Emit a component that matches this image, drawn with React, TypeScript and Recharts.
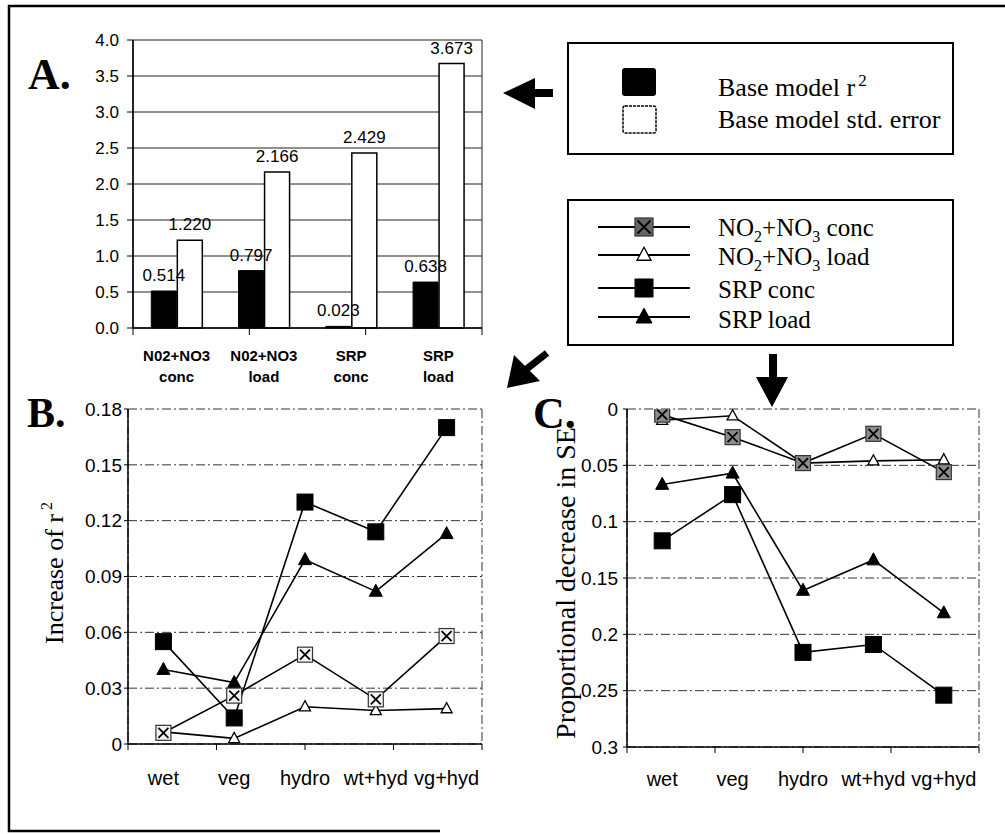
import React from 'react';
import { BarChart, Bar, LineChart, Line, XAxis, YAxis, CartesianGrid, LabelList } from 'recharts';

// ---------- Panel A data ----------
const barCategories = ['N02+NO3|conc', 'N02+NO3|load', 'SRP|conc', 'SRP|load'];
const baseModelR2 = [0.514, 0.797, 0.023, 0.638];
const baseModelStdError = [1.22, 2.166, 2.429, 3.673];
const barYTicks = [0, 0.5, 1, 1.5, 2, 2.5, 3, 3.5, 4];
const barEdgeTicks = [0, 1, 2, 3, 4];

// ---------- Panels B & C data ----------
const lineCategories = ['wet', 'veg', 'hydro', 'wt+hyd', 'vg+hyd'];
const lineEdgeTicks = [0, 1, 2, 3, 4, 5];

// B: increase of r^2
const r2No3Conc = [0.006, 0.026, 0.048, 0.024, 0.058];
const r2No3Load = [0.0065, 0.003, 0.02, 0.018, 0.019];
const r2SrpConc = [0.055, 0.014, 0.13, 0.114, 0.17];
const r2SrpLoad = [0.04, 0.033, 0.099, 0.082, 0.113];
const r2YTicks = [0, 0.03, 0.06, 0.09, 0.12, 0.15, 0.18];

// C: proportional decrease in SE
const seNo3Conc = [0.005, 0.025, 0.048, 0.022, 0.056];
const seNo3Load = [0.01, 0.006, 0.048, 0.046, 0.045];
const seSrpConc = [0.117, 0.076, 0.216, 0.209, 0.254];
const seSrpLoad = [0.067, 0.057, 0.161, 0.134, 0.181];
const seYTicks = [0, 0.05, 0.1, 0.15, 0.2, 0.25, 0.3];

const barData = barCategories.map((name, i) => ({
  name,
  r2: baseModelR2[i],
  se: baseModelStdError[i],
}));

const r2Data = lineCategories.map((name, i) => ({
  name,
  no3conc: r2No3Conc[i],
  no3load: r2No3Load[i],
  srpconc: r2SrpConc[i],
  srpload: r2SrpLoad[i],
}));

const seData = lineCategories.map((name, i) => ({
  name,
  no3conc: seNo3Conc[i],
  no3load: seNo3Load[i],
  srpconc: seSrpConc[i],
  srpload: seSrpLoad[i],
}));

const SANS = "Arial, 'Liberation Sans', Helvetica, sans-serif";
const SERIF = "'Times New Roman', 'Liberation Serif', serif";

type Kind = 'xsquare' | 'otri' | 'square' | 'tri';

function marker(kind: Kind, cx: number, cy: number, s: number, xFill: string) {
  const h = s / 2;
  switch (kind) {
    case 'xsquare':
      return (
        <g>
          <rect x={cx - h} y={cy - h} width={s} height={s} fill={xFill} stroke="#333" strokeWidth={1.2} />
          <path
            d={`M${cx - h + 2.5} ${cy - h + 2.5}L${cx + h - 2.5} ${cy + h - 2.5}M${cx + h - 2.5} ${cy - h + 2.5}L${cx - h + 2.5} ${cy + h - 2.5}`}
            stroke="#000"
            strokeWidth={1.8}
          />
        </g>
      );
    case 'otri':
      return (
        <polygon
          points={`${cx},${cy - h * 1.1} ${cx - h},${cy + h * 0.75} ${cx + h},${cy + h * 0.75}`}
          fill="#fff"
          stroke="#000"
          strokeWidth={1.3}
        />
      );
    case 'square':
      return <rect x={cx - h} y={cy - h} width={s} height={s} fill="#000" stroke="#000" strokeWidth={1} />;
    case 'tri':
      return (
        <polygon
          points={`${cx},${cy - h * 1.1} ${cx - h},${cy + h * 0.75} ${cx + h},${cy + h * 0.75}`}
          fill="#000"
          stroke="#000"
          strokeWidth={1}
        />
      );
  }
}

const seriesDefs: { key: string; kind: Kind; size: number }[] = [
  { key: 'no3load', kind: 'otri', size: 11 },
  { key: 'srpload', kind: 'tri', size: 13 },
  { key: 'no3conc', kind: 'xsquare', size: 15 },
  { key: 'srpconc', kind: 'square', size: 16 },
];

const BarCatTick = (props: any) => {
  const { x, y, payload } = props;
  const [l1, l2] = String(payload.value).split('|');
  return (
    <text x={x} y={y} textAnchor="middle" fontFamily={SANS} fontWeight="bold" fontSize={15} fill="#000">
      <tspan x={x} dy={32}>{l1}</tspan>
      <tspan x={x} dy={21}>{l2}</tspan>
    </text>
  );
};

const edgeGen = (args: any) => {
  const o = args.offset;
  return [o.left, o.left + o.width];
};

const EDGE = 'aEdge';
const CAT = 'zCat';

function PanelA() {
  return (
    <BarChart
      width={500}
      height={400}
      data={barData}
      margin={{ top: 40, right: 18, bottom: 21, left: 83 }}
      barCategoryGap="21%"
      barGap={1}
    >
      <CartesianGrid xAxisId={CAT} stroke="#222" strokeWidth={1} verticalCoordinatesGenerator={edgeGen} />
      <XAxis
        xAxisId={EDGE}
        type="number"
        domain={[0, 4]}
        allowDataOverflow
        ticks={barEdgeTicks}
        tickSize={7}
        tickFormatter={() => ''}
        height={1}
        stroke="#000"
        axisLine={{ stroke: '#000', strokeWidth: 1.5 }}
      />
      <XAxis
        xAxisId={CAT}
        dataKey="name"
        type="category"
        axisLine={false}
        tickLine={false}
        tickSize={0}
        tickMargin={0}
        height={50}
        interval={0}
        tick={<BarCatTick />}
      />
      <YAxis
        width={50}
        domain={[0, 4]}
        ticks={barYTicks}
        tickFormatter={(v: number) => v.toFixed(1)}
        tickSize={6}
        tickMargin={8}
        axisLine={{ stroke: '#000', strokeWidth: 1.5 }}
        tickLine={{ stroke: '#000' }}
        tick={{ fill: '#000', fontFamily: SANS, fontSize: 17 }}
      />
      <Bar xAxisId={CAT} dataKey="r2" fill="#000" stroke="#000" strokeWidth={1} isAnimationActive={false}>
        <LabelList
          dataKey="r2"
          position="top"
          offset={10}
          formatter={(v: any) => Number(v).toFixed(3)}
          fill="#000"
          stroke="none"
          fontFamily={SANS}
          fontSize={17}
        />
      </Bar>
      <Bar xAxisId={CAT} dataKey="se" fill="#fff" stroke="#000" strokeWidth={1.5} isAnimationActive={false}>
        <LabelList
          dataKey="se"
          position="top"
          offset={10}
          formatter={(v: any) => Number(v).toFixed(3)}
          fill="#000"
          stroke="none"
          fontFamily={SANS}
          fontSize={17}
        />
      </Bar>
    </BarChart>
  );
}

function LinePanel(props: {
  data: any[];
  width: number;
  margin: any;
  domain: [number, number];
  ticks: number[];
  reversed?: boolean;
  tickFmt: (v: number) => string;
  catMargin: number;
  xFill: string;
  tickMarginY: number;
}) {
  const { data, width, margin, domain, ticks, reversed, tickFmt, catMargin, xFill, tickMarginY } = props;
  return (
    <LineChart width={width} height={440} data={data} margin={margin}>
      <CartesianGrid
        xAxisId={CAT}
        stroke="#333"
        strokeWidth={1}
        strokeDasharray="9 3 2 3"
        verticalCoordinatesGenerator={edgeGen}
      />
      <XAxis
        xAxisId={EDGE}
        type="number"
        domain={[0, 5]}
        allowDataOverflow
        ticks={lineEdgeTicks}
        tickSize={6}
        tickFormatter={() => ''}
        height={1}
        stroke="#000"
        axisLine={{ stroke: '#000', strokeWidth: 1.5 }}
      />
      <XAxis
        xAxisId={CAT}
        dataKey="name"
        type="category"
        scale="band"
        axisLine={false}
        tickLine={false}
        tickSize={0}
        tickMargin={catMargin}
        height={40}
        interval={0}
        tick={{ fill: '#000', fontFamily: SANS, fontSize: 20 }}
      />
      <YAxis
        width={60}
        domain={domain}
        ticks={ticks}
        reversed={reversed}
        allowDataOverflow
        tickFormatter={tickFmt}
        tickSize={4}
        tickMargin={tickMarginY}
        axisLine={{ stroke: '#000', strokeWidth: 1.5 }}
        tickLine={{ stroke: '#000' }}
        tick={{ fill: '#000', fontFamily: SANS, fontSize: 19 }}
      />
      {seriesDefs.map((s) => (
        <Line
          key={s.key}
          xAxisId={CAT}
          dataKey={s.key}
          stroke="#000"
          strokeWidth={1.6}
          isAnimationActive={false}
          dot={(p: any) => (
            <g key={`${s.key}-${p.index}`}>{marker(s.kind, p.cx, p.cy, s.size, xFill)}</g>
          )}
          activeDot={false}
        />
      ))}
    </LineChart>
  );
}

function Overlay() {
  const legendFont = { fontFamily: SERIF, fill: '#000' };
  const lineItems: { kind: Kind; size: number; y: number; base: number }[] = [
    { kind: 'xsquare', size: 18, y: 227, base: 236 },
    { kind: 'otri', size: 14, y: 255, base: 265 },
    { kind: 'square', size: 18, y: 288, base: 298 },
    { kind: 'tri', size: 16, y: 317, base: 328 },
  ];
  const labels = [
    <>
      <tspan>NO</tspan>
      <tspan dy={6} fontSize={16}>2</tspan>
      <tspan dy={-6}>+NO</tspan>
      <tspan dy={6} fontSize={16}>3</tspan>
      <tspan dy={-6}> conc</tspan>
    </>,
    <>
      <tspan>NO</tspan>
      <tspan dy={6} fontSize={16}>2</tspan>
      <tspan dy={-6}>+NO</tspan>
      <tspan dy={6} fontSize={16}>3</tspan>
      <tspan dy={-6}> load</tspan>
    </>,
    <>SRP conc</>,
    <>SRP load</>,
  ];
  return (
    <svg width={1005} height={834} style={{ position: 'absolute', left: 0, top: 0, pointerEvents: 'none' }}>
      {/* outer frame */}
      <path d="M1005 6 L9 6 L9 831 L440 831" fill="none" stroke="#000" strokeWidth={2.5} />

      {/* panel letters */}
      <text x={28} y={89} fontFamily={SERIF} fontWeight="bold" fontSize={44} fill="#000">A.</text>
      <text x={27} y={427} fontFamily={SERIF} fontWeight="bold" fontSize={42} fill="#000">B.</text>
      <text x={533} y={428} fontFamily={SERIF} fontWeight="bold" fontSize={44} fill="#000">C.</text>

      {/* y titles */}
      <text
        x={63}
        y={573}
        transform="rotate(-90 63 573)"
        textAnchor="middle"
        fontFamily={SERIF}
        fontSize={26}
        fill="#000"
      >
        Increase of r<tspan dx={4} dy={-11} fontSize={16}>2</tspan>
      </text>
      <text
        x={575}
        y={583}
        transform="rotate(-90 575 583)"
        textAnchor="middle"
        fontFamily={SERIF}
        fontSize={28}
        fill="#000"
      >
        Proportional decrease in SE
      </text>

      {/* legend 1 */}
      <rect x={568} y={43} width={385} height={111} fill="#fff" stroke="#000" strokeWidth={2} />
      <rect x={622} y={68} width={34} height={28} rx={3} fill="#000" />
      <rect x={623} y={106} width={33} height={27} rx={2} fill="#fff" stroke="#000" strokeWidth={1.5} strokeDasharray="3 1" />
      <text x={718} y={96} fontSize={26} {...legendFont}>
        Base model r<tspan dx={3} dy={-10} fontSize={17}>2</tspan>
      </text>
      <text x={718} y={128} fontSize={26} {...legendFont}>Base model std. error</text>

      {/* legend 2 */}
      <rect x={568} y={200} width={385} height={145} fill="#fff" stroke="#000" strokeWidth={2} />
      {lineItems.map((it, i) => (
        <g key={i}>
          <line x1={598} x2={690} y1={it.y} y2={it.y} stroke="#000" strokeWidth={2.2} />
          {marker(it.kind, 644, it.y, it.size, '#666')}
          <text x={718} y={it.base} fontSize={25} {...legendFont}>{labels[i]}</text>
        </g>
      ))}

      {/* arrows */}
      <polygon points="503,93 535,78 535,109" fill="#000" />
      <rect x={534} y={89} width={19} height={8} fill="#000" />

      <polygon points="507,388 514,355 540,381" fill="#000" />
      <line x1={524} y1={371} x2={547} y2={353} stroke="#000" strokeWidth={7} />

      <rect x={769} y={354} width={8} height={25} fill="#000" />
      <polygon points="756,377 788,377 772,407" fill="#000" />
    </svg>
  );
}

export default function App() {
  const fmtR2 = (v: number) => (v === 0 ? '0' : v.toFixed(2));
  const fmtSE = (v: number) => String(Number(v.toFixed(2)));
  return (
    <div
      style={{
        position: 'absolute',
        left: 0,
        top: 0,
        width: 1005,
        height: 834,
        background: '#fff',
        overflow: 'hidden',
      }}
    >
      <div style={{ position: 'absolute', left: 0, top: 0 }}>
        <PanelA />
      </div>
      <div style={{ position: 'absolute', left: 0, top: 380 }}>
        <LinePanel
          data={r2Data}
          width={500}
          margin={{ top: 29, right: 18, bottom: 35, left: 68 }}
          domain={[0, 0.18]}
          ticks={r2YTicks}
          tickFmt={fmtR2}
          catMargin={26}
          xFill="#f4f4f4"
          tickMarginY={2}
        />
      </div>
      <div style={{ position: 'absolute', left: 500, top: 380 }}>
        <LinePanel
          data={seData}
          width={505}
          margin={{ top: 29, right: 26, bottom: 32, left: 67 }}
          domain={[0, 0.3]}
          ticks={seYTicks}
          reversed
          tickFmt={fmtSE}
          catMargin={24}
          xFill="#8c8c8c"
          tickMarginY={5}
        />
      </div>
      <Overlay />
    </div>
  );
}
